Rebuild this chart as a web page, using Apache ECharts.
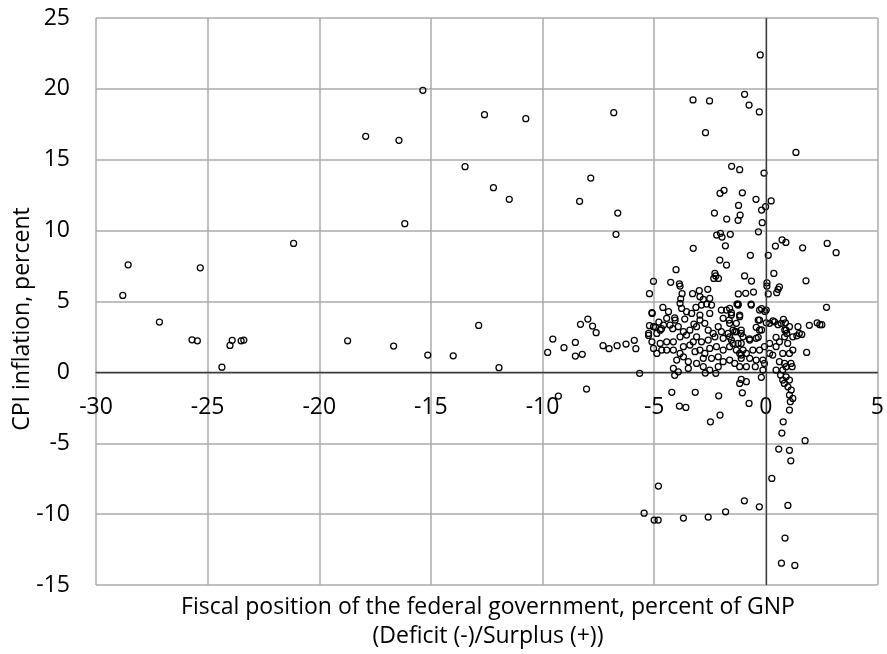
<!DOCTYPE html>
<html>
<head>
<meta charset="utf-8">
<script src="https://cdn.jsdelivr.net/npm/echarts@6/dist/echarts.min.js"></script>
<style>html,body{margin:0;padding:0;background:#fff}#c{width:887px;height:654px}</style>
</head>
<body>
<div id="c"></div>
<script>
// Axis settings / labels
const xTitleLine1 = 'Fiscal position of the federal government, percent of GNP';
const xTitleLine2 = '(Deficit (-)/Surplus (+))';
const yTitle = 'CPI inflation, percent';
const xRange = [-30, 5];
const yRange = [-15, 25];

// Points: [fiscal position % of GNP, CPI inflation %]
const farLeftPts = [
  [-28.56,7.59],[-28.8,5.43],[-27.16,3.55],[-25.7,2.30],[-25.46,2.23],[-25.33,7.38],[-24.36,0.37],
  [-24.0,1.9],[-23.9,2.26],[-23.5,2.23],[-23.38,2.28],[-21.15,9.1],[-18.73,2.23],[-17.92,16.65],
  [-16.43,16.37],[-16.67,1.86],[-16.17,10.49],[-15.36,19.9],[-15.14,1.22],[-14.0,1.17],[-13.47,14.51],
  [-12.86,3.31],[-12.6,18.18],[-12.2,13.03],[-11.95,0.33],[-11.49,12.21],[-10.75,17.9]
];
const midLeftPts = [
  [-9.77,1.41],[-9.54,2.35],[-9.04,1.74],[-8.53,2.11],[-8.53,1.15],[-8.22,1.27],[-8.30,3.39],[-7.97,3.76],
  [-7.76,3.27],[-7.6,2.80],[-7.29,1.88],[-7.02,1.67],[-6.66,1.88],[-6.26,2.0],[-5.89,2.26],[-5.82,1.67],
  [-5.25,2.61],[-5.21,3.29],[-5.09,4.16],[-5.65,-0.07],[-8.03,-1.18],[-9.29,-1.67]
];
const highInflationPts = [
  [-0.25,22.39],[-3.26,19.22],[-2.52,19.15],[-0.95,19.62],[-0.75,18.86],[-0.29,18.37],[-6.81,18.32],
  [-2.7,16.91],[1.35,15.52],[-7.84,13.71],[-1.53,14.54],[-1.17,14.3],[-0.08,14.06],[-8.34,12.07],
  [-6.63,11.24],[-6.71,9.74],[-2.05,12.63],[-1.87,12.84],[-1.05,12.67],[-0.44,12.21],[0.24,12.09],
  [-0.01,11.69],[-0.19,11.45],[-1.22,11.78],[-2.3,11.24],[-1.75,10.82],[-1.15,11.1],[-1.24,10.73],
  [-0.16,10.56],[-0.33,9.92],[-2.2,9.69],[-2.03,9.81],[-1.96,9.55],[-1.59,9.74],[-3.25,8.75],[-1.81,8.93],
  [0.43,8.91],[0.73,9.34],[0.9,9.17],[1.65,8.79],[2.75,9.1],[3.15,8.44],[-0.69,8.26],[0.11,8.26]
];
const upperClusterPts = [
  [-4.02,7.24],[-5.03,6.42],[-4.26,6.35],[-3.87,6.25],[-3.84,6.09],[-5.21,5.55],[-3.75,5.55],[-3.28,5.55],
  [-2.98,5.76],[-3.81,5.19],[-2.8,5.15],
  [-2.06,7.92],[-1.76,7.57],[-2.28,6.98],[-2.24,6.8],[-2.33,6.63],[-2.12,6.63],[-0.95,6.8],[-0.64,6.44],
  [0.36,6.98],[0.05,6.32],[0.05,6.09],[0.61,6.04],[0.55,5.86],[1.8,6.46],[-2.6,5.86],[-1.23,5.53],
  [-0.9,5.58],[-0.55,5.67],[0.11,5.53],[0.49,5.62],[-2.95,5.34],[-2.51,5.22],
  [2.72,4.59],[1.44,3.22],[1.95,3.32],[2.3,3.5],[2.42,3.36],[2.51,3.36],[1.5,2.75],
  [1.61,2.68],[1.39,2.58],[1.83,1.41],[0.91,0.4],[1.18,0.4]
];
const coreLeftPts = [
  [-5.10,4.21],[-4.61,4.58],[-4.36,4.28],[-3.84,4.87],[-3.77,4.51],[-3.55,4.28],[-3.32,4.16],[-3.13,4.58],
  [-2.95,4.04],[-2.88,4.75],[-2.65,4.82],[-2.43,4.75],[-2.51,4.16],[-1.99,4.40],[-1.76,4.40],[-1.54,4.21],
  [-1.24,4.82],[-1.17,4.04],[-1.91,3.81],[-1.64,3.69],[-1.32,3.46],[-4.44,3.81],[-4.58,3.34],[-4.73,2.98],
  [-5.03,3.22],[-5.25,2.75],[-4.88,2.75],[-4.29,3.34],[-4.06,3.69],[-3.92,3.22],[-3.69,2.87],[-3.40,2.98],
  [-3.10,3.22],[-2.95,3.69],[-2.73,3.46],[-2.58,2.98],[-2.36,2.75],[-2.13,3.22],[-1.99,2.87],[-1.69,2.75],
  [-1.47,2.98],[-1.32,2.87],[-1.10,2.75],[-5.10,2.16],[-4.73,2.04],[-4.44,2.16],[-4.14,2.16],[-3.84,2.51],
  [-3.55,2.63],[-3.25,2.16],[-3.10,2.51],[-2.88,2.16],[-2.58,2.28],[-2.28,2.51],[-1.91,2.40],[-1.54,2.28],
  [-1.24,2.04],[-1.02,1.57],[-1.10,1.22],[-1.32,1.57],[-1.62,1.81],[-1.91,1.57],[-2.21,1.81],[-2.51,1.69],
  [-2.73,1.34],[-2.95,1.57],[-3.17,1.46],[-3.40,1.93],[-3.69,1.81],[-3.84,1.34],[-4.14,1.57],[-4.44,1.57],
  [-4.66,1.57],[-4.88,1.34],[-5.03,1.69],[-3.99,0.87],[-3.69,1.10],[-3.47,0.75],[-3.10,0.63],[-2.80,0.99],
  [-2.43,0.99],[-2.13,1.10],[-1.91,0.75],[-1.62,0.87],[-1.39,0.63],[-1.17,0.40],[-2.13,0.40],[-2.51,0.16],
  [-2.80,0.40],[-3.47,0.28],[-4.14,0.28],[-3.92,0.04],
  [-4.94,3.18],[-4.67,3.08],[-4.17,3.08],[-4.79,3.55],[-3.63,3.76],[-3.22,3.41],[-4.08,3.85]
];
const coreRightPts = [
  [-1.62,4.51],[-1.24,4.75],[-0.65,4.75],[-0.28,4.40],[0.02,4.40],[-1.54,4.04],[-1.17,3.93],[-1.62,3.46],
  [-1.39,2.87],[-1.10,2.98],[-1.02,2.51],[-1.62,2.51],[-1.47,2.04],[-1.10,2.04],[-0.72,2.28],[-0.43,2.40],
  [-0.28,2.98],[-0.28,3.69],[0.17,3.46],[0.39,3.57],[0.69,3.46],[0.91,2.98],[1.06,3.22],[1.21,2.51],
  [0.84,2.51],[0.61,2.16],[0.46,1.81],[0.76,1.34],[1.06,1.34],[1.21,1.57],[0.98,2.04],[0.17,2.04],
  [-0.06,1.81],[-0.28,1.57],[-0.58,1.57],[-0.87,1.34],[-1.17,1.34],[-1.10,0.99],[-0.72,0.99],[-0.43,0.87],
  [-0.13,0.87],[0.17,1.34],[0.31,1.22],[0.61,0.75],[0.84,0.63],[1.13,0.63],[-0.87,0.40],[-0.13,0.16],
  [0.46,0.16],[0.76,0.16],
  [-0.66,4.82],[-0.19,4.49],[-0.04,4.30],[-1.29,4.82],[-0.34,3.69],[0.02,3.50],[0.32,3.64],[0.55,3.36],
  [0.79,3.74],[0.88,3.50],[-0.43,3.18],[-0.19,2.99],[0.85,2.99],[0.94,2.75],[-0.73,2.37],[-0.34,2.47],
  [0.46,2.47],[-0.47,0.40],[-0.06,0.63]
];
const deflationPts = [
  [-0.2,-0.35],[-1.05,-1.44],[-0.75,-2.19],[0.66,-0.19],[0.76,-0.54],[0.91,-0.31],[0.83,-0.78],[1.06,-0.54],
  [0.99,-1.02],[1.14,-1.25],[1.06,-1.6],[1.21,-1.84],[1.1,-2.07],[-0.87,-0.66],[-1.17,-0.78],[-1.1,-0.5],
  [-4.21,-1.41],[-3.16,-1.41],[-2.11,-1.65],[-4.08,-0.21],[-2.71,-0.05],[-2.24,-0.07],
  [-3.87,-2.38],[-3.58,-2.47],[1.06,-2.66],[-2.48,-3.49],[-2.05,-3.01],[0.78,-3.49],[0.72,-4.28],[1.76,-4.82],
  [0.58,-5.41],[1.06,-5.5],[1.12,-6.24],[0.27,-7.48],[-4.81,-8.02],[-0.96,-9.06],[-0.29,-9.48],[0.99,-9.39],
  [-5.45,-9.93],[-5.0,-10.42],[-4.82,-10.42],[-3.69,-10.28],[-2.58,-10.21],[-1.8,-9.84],[0.86,-11.69],
  [0.7,-13.46],[1.3,-13.62]
];

const allPts = [].concat(farLeftPts, midLeftPts, highInflationPts, upperClusterPts, coreLeftPts, coreRightPts, deflationPts);

const FONT = '"Open Sans", Lato, sans-serif';
const GRID = { left: 96, right: 5, top: 18, bottom: 69 };
const plotH = 654 - GRID.top - GRID.bottom;
// shift the labelled x axis up to where y = 0 sits in the plot
const zeroOffset = -plotH * (0 - yRange[0]) / (yRange[1] - yRange[0]);

const chart = echarts.init(document.getElementById('c'));
chart.setOption({
  animation: false,
  backgroundColor: '#fff',
  grid: Object.assign({ containLabel: false }, GRID),
  xAxis: [{
    type: 'value', min: xRange[0], max: xRange[1], interval: 5,
    axisLine: { show: false, onZero: false },
    axisTick: { show: false },
    axisLabel: { show: false },
    splitLine: { show: true, lineStyle: { color: '#ababab', width: 1.5 } }
  }, {
    type: 'value', min: xRange[0], max: xRange[1], interval: 5,
    position: 'bottom', offset: zeroOffset,
    axisLine: { show: true, onZero: false, lineStyle: { color: '#3a3a3a', width: 1.3 } },
    axisTick: { show: false },
    axisLabel: { color: '#000', fontSize: 23, fontFamily: FONT, margin: 24 },
    splitLine: { show: false }
  }],
  yAxis: {
    type: 'value', min: yRange[0], max: yRange[1], interval: 5,
    axisLine: { show: false, onZero: false },
    axisTick: { show: false },
    axisLabel: { color: '#000', fontSize: 23, fontFamily: FONT, margin: 26 },
    splitLine: { show: true, lineStyle: { color: '#ababab', width: 1.5 } }
  },
  graphic: [
    { type: 'text', x: 22, y: 319, rotation: Math.PI / 2,
      style: { text: yTitle, textAlign: 'center', textVerticalAlign: 'middle', fontSize: 23, fontFamily: FONT, fill: '#000' } },
    { type: 'text', x: 488, y: 607,
      style: { text: xTitleLine1, textAlign: 'center', textVerticalAlign: 'middle', fontSize: 23, fontFamily: FONT, fill: '#000' } },
    { type: 'text', x: 488, y: 636,
      style: { text: xTitleLine2, textAlign: 'center', textVerticalAlign: 'middle', fontSize: 23, fontFamily: FONT, fill: '#000' } }
  ],
  series: [{
    type: 'scatter',
    xAxisIndex: 0,
    data: allPts,
    symbol: 'circle',
    symbolSize: 6,
    itemStyle: { color: 'rgba(0,0,0,0)', borderColor: '#000', borderWidth: 1.25, opacity: 1 },
    markLine: {
      silent: true, symbol: ['none', 'none'], label: { show: false },
      lineStyle: { color: '#3a3a3a', type: 'solid', width: 1.3 },
      data: [{ xAxis: 0 }]
    },
    z: 3
  }]
});
</script>
</body>
</html>
